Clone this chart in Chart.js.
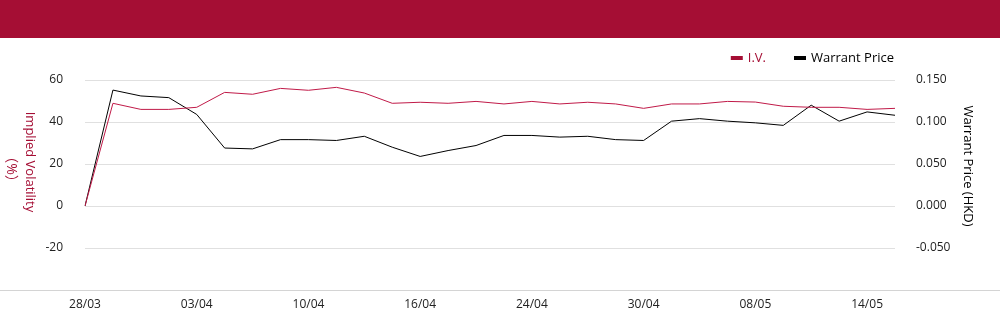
<!DOCTYPE html>
<html>
<head>
<meta charset="utf-8">
<script src="https://cdn.jsdelivr.net/npm/chart.js@4/dist/chart.umd.min.js"></script>
<style>
  body { margin: 0; background: #fff; }
  #banner { height: 38px; background: #a50e34; }
  #wrap { position: relative; width: 1000px; height: 286px; }
</style>
</head>
<body>
<div id="banner"></div>
<div id="wrap"><canvas id="ivChart"></canvas></div>
<script>
var dates = ['28/03','31/03','01/04','02/04','03/04','07/04','08/04','09/04','10/04','11/04',
             '14/04','15/04','16/04','17/04','22/04','23/04','24/04','25/04','28/04','29/04',
             '30/04','02/05','06/05','07/05','08/05','09/05','12/05','13/05','14/05','15/05'];

var ivValues = [0, 48.9, 46.0, 46.0, 47.0, 54.1, 53.2, 56.0, 55.1, 56.5,
                53.8, 48.9, 49.4, 48.9, 49.8, 48.6, 49.8, 48.6, 49.4, 48.6,
                46.5, 48.6, 48.6, 49.8, 49.5, 47.5, 47.0, 47.0, 46.0, 46.5];

var priceValues = [0, 0.138, 0.131, 0.129, 0.109, 0.069, 0.068, 0.079, 0.079, 0.078,
                   0.083, 0.070, 0.059, 0.066, 0.072, 0.084, 0.084, 0.082, 0.083, 0.079,
                   0.078, 0.101, 0.104, 0.101, 0.099, 0.096, 0.120, 0.101, 0.112, 0.108];

var ivColor = '#a50e34';
var ivLine = '#c01a48';
var priceColor = '#000000';
var fontFamily = '"Open Sans", "Noto Sans", "Noto Sans CJK SC", sans-serif';

// legend and axis titles drawn by hand so they sit where the original has them
var extras = {
    id: 'extras',
    afterDraw: function(chart){
        var ctx = chart.ctx;
        var area = chart.chartArea;
        ctx.save();

        // full width base line
        ctx.strokeStyle = '#d4d4d4';
        ctx.lineWidth = 1;
        ctx.beginPath();
        ctx.moveTo(0, area.bottom + 0.5);
        ctx.lineTo(chart.width, area.bottom + 0.5);
        ctx.stroke();

        // legend
        ctx.font = '13px ' + fontFamily;
        ctx.textBaseline = 'middle';
        ctx.textAlign = 'left';
        var items = [
            {text: chart.data.datasets[0].label, color: ivColor},
            {text: chart.data.datasets[1].label, color: priceColor}
        ];
        var ly = 20;
        var widths = items.map(function(it){ return 12 + 6 + ctx.measureText(it.text).width; });
        var total = widths[0] + 27 + widths[1];
        var x = area.right - total;
        for (var i = 0; i < items.length; i++){
            ctx.fillStyle = items[i].color;
            ctx.fillRect(x, ly - 2, 12, 4);
            ctx.fillText(items[i].text, x + 17, ly);
            x += widths[i] + 27;
        }

        // axis titles, rotated clockwise
        ctx.textAlign = 'center';
        ctx.fillStyle = ivColor;
        ctx.save();
        ctx.translate(30, 124);
        ctx.rotate(Math.PI / 2);
        ctx.fillText('Implied Volatility', 0, 0);
        ctx.restore();
        ctx.save();
        ctx.translate(11, 131);
        ctx.rotate(Math.PI / 2);
        ctx.font = '14px ' + fontFamily;
        ctx.fillText('（%）', 0, 0);
        ctx.restore();

        ctx.fillStyle = '#000';
        ctx.save();
        ctx.translate(968, 128);
        ctx.rotate(Math.PI / 2);
        ctx.fillText('Warrant Price (HKD)', 0, 0);
        ctx.restore();

        ctx.restore();
    }
};

new Chart(document.getElementById('ivChart'), {
    type: 'line',
    data: {
        labels: dates,
        datasets: [{
            label: 'I.V.',
            data: ivValues,
            borderColor: ivLine,
            backgroundColor: ivColor,
            borderWidth: 1,
            pointRadius: 0,
            tension: 0,
            yAxisID: 'yIV'
        }, {
            label: 'Warrant Price',
            data: priceValues,
            borderColor: priceColor,
            backgroundColor: priceColor,
            borderWidth: 1,
            pointRadius: 0,
            tension: 0,
            yAxisID: 'yPrice'
        }]
    },
    options: {
        responsive: true,
        maintainAspectRatio: false,
        animation: false,
        layout: { padding: { top: 42, left: 0, right: 0, bottom: 0 } },
        plugins: {
            legend: { display: false },
            tooltip: { enabled: false }
        },
        scales: {
            x: {
                grid: { display: false, drawTicks: false },
                border: { display: false },
                ticks: {
                    autoSkip: false,
                    maxRotation: 0,
                    padding: 7,
                    color: '#222',
                    font: { size: 12, family: fontFamily },
                    callback: function(v, i){ return i % 4 === 0 ? dates[i] : ''; }
                },
                afterFit: function(s){ s.height = 34; }
            },
            yIV: {
                position: 'left',
                min: -40,
                max: 60,
                grid: { color: '#e0e0e0', drawTicks: false },
                border: { display: false },
                ticks: {
                    stepSize: 20,
                    padding: 22,
                    color: '#222',
                    font: { size: 12, family: fontFamily },
                    callback: function(v){ return v === -40 ? '' : v; }
                },
                afterFit: function(s){ s.width = 85; }
            },
            yPrice: {
                position: 'right',
                min: -0.1,
                max: 0.15,
                grid: { display: false, drawTicks: false },
                border: { display: false },
                ticks: {
                    stepSize: 0.05,
                    padding: 21,
                    color: '#222',
                    font: { size: 12, family: fontFamily },
                    callback: function(v){ return Math.abs(v + 0.1) < 1e-9 ? '' : v.toFixed(3); }
                },
                afterFit: function(s){ s.width = 105; }
            }
        }
    },
    plugins: [extras]
});
</script>
</body>
</html>
